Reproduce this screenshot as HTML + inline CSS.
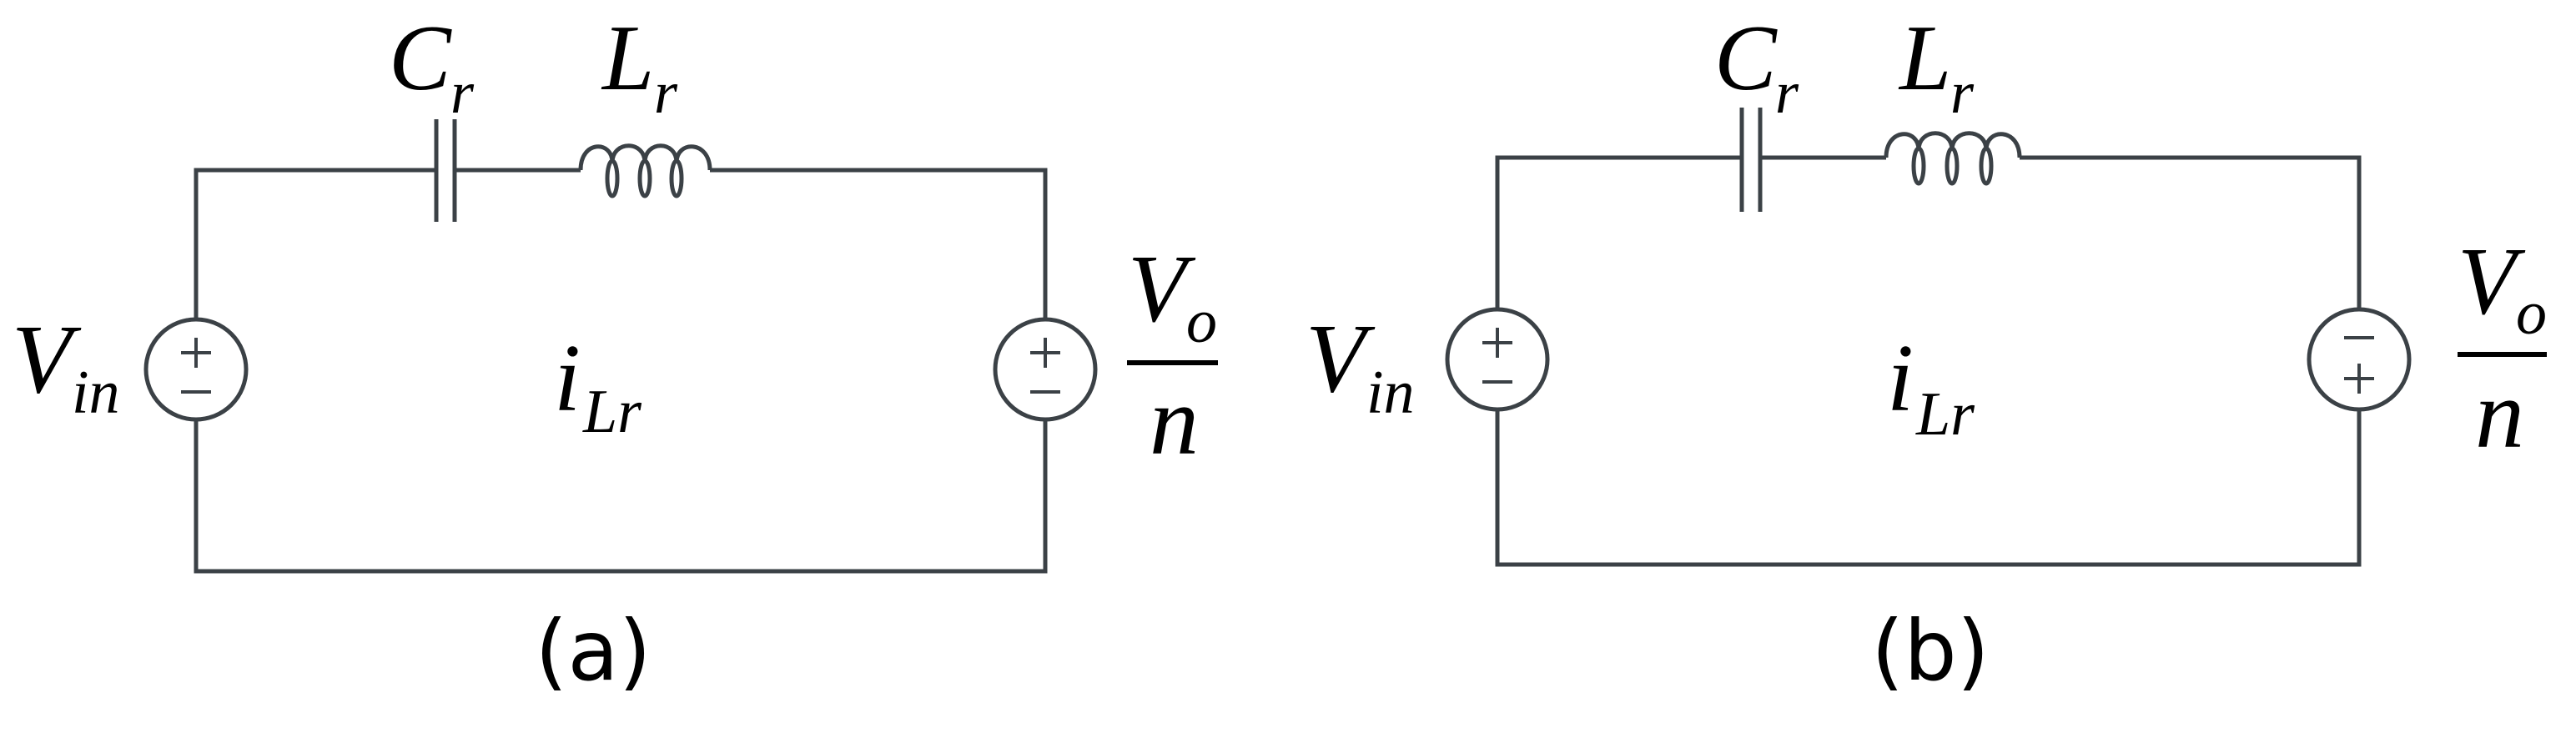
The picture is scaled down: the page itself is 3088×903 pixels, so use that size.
<!DOCTYPE html>
<html><head><meta charset="utf-8"><style>
html,body{margin:0;padding:0;background:#fff;}
svg{display:block;}
.m{font-family:"Liberation Serif",serif;font-style:italic;fill:#000;}
.c{font-family:"DejaVu Sans","Liberation Sans",sans-serif;fill:#000;}
</style></head><body>
<svg width="3088" height="903" viewBox="0 0 3088 903" xmlns="http://www.w3.org/2000/svg">
<g fill="none" stroke="#3b4146" stroke-width="5">
<!-- Panel a -->
<path d="M235 383 V204 H523 M545 204 H696 M851 204 H1253 V383"/>
<path d="M235 503 V685 H1253 V503"/>
<line x1="523" y1="143" x2="523" y2="266"/>
<line x1="545" y1="143" x2="545" y2="266"/>
<path d="M696 204 C696 168 734 168 734 195 C734 168 773 168 773 195 C773 168 811 168 811 195 C811 168 851 168 851 204" />
<ellipse cx="734" cy="214" rx="6" ry="21"/>
<ellipse cx="773" cy="214" rx="6" ry="21"/>
<ellipse cx="811" cy="214" rx="6" ry="21"/>
<circle cx="235" cy="443" r="60"/>
<circle cx="1253" cy="443" r="60"/>
<g stroke-width="4">
<path d="M217 423 H253 M235 405 V441 M217 470 H253"/>
<path d="M1235 423 H1271 M1253 405 V441 M1235 470 H1271"/>
</g>
<!-- Panel b -->
<path d="M1795 371 V189 H2088 M2110 189 H2261 M2421 189 H2828 V371"/>
<path d="M1795 491 V677 H2828 V491"/>
<line x1="2088" y1="129" x2="2088" y2="254"/>
<line x1="2110" y1="129" x2="2110" y2="254"/>
<path d="M2261 189 C2261 153 2300 153 2300 180 C2300 153 2340 153 2340 180 C2340 153 2381 153 2381 180 C2381 153 2421 153 2421 189"/>
<ellipse cx="2300" cy="199" rx="6" ry="21"/>
<ellipse cx="2340" cy="199" rx="6" ry="21"/>
<ellipse cx="2381" cy="199" rx="6" ry="21"/>
<circle cx="1795" cy="431" r="60"/>
<circle cx="2828" cy="431" r="60"/>
<g stroke-width="4">
<path d="M1777 411 H1813 M1795 393 V429 M1777 458 H1813"/>
<path d="M2810 405 H2846 M2810 454 H2846 M2828 436 V472"/>
</g>
</g>
<!-- Fraction bars -->
<rect x="1351" y="432" width="109" height="6" fill="#000"/>
<rect x="2946" y="422" width="107" height="6" fill="#000"/>
<!-- Labels a -->
<text class="m" x="466" y="107" font-size="112">C</text>
<text class="m" x="540" y="135" font-size="72">r</text>
<text class="m" x="722" y="107" font-size="112">L</text>
<text class="m" x="784" y="135" font-size="72">r</text>
<text class="m" x="14" y="470" font-size="118">V</text>
<text class="m" x="86" y="495" font-size="74">in</text>
<text class="m" x="664" y="492" font-size="115">i</text>
<text class="m" x="699" y="518" font-size="74">Lr</text>
<text class="m" x="1352" y="385" font-size="115">V</text>
<text class="m" x="1422" y="410" font-size="74">o</text>
<text class="m" x="1378" y="544" font-size="118">n</text>
<text class="c" x="711" y="815" font-size="100" text-anchor="middle">(a)</text>
<!-- Labels b -->
<text class="m" x="2055" y="107" font-size="112">C</text>
<text class="m" x="2128" y="135" font-size="72">r</text>
<text class="m" x="2277" y="107" font-size="112">L</text>
<text class="m" x="2338" y="135" font-size="72">r</text>
<text class="m" x="1565" y="469" font-size="118">V</text>
<text class="m" x="1638" y="495" font-size="74">in</text>
<text class="m" x="2262" y="492" font-size="115">i</text>
<text class="m" x="2297" y="521" font-size="74">Lr</text>
<text class="m" x="2946" y="376" font-size="115">V</text>
<text class="m" x="3016" y="400" font-size="74">o</text>
<text class="m" x="2967" y="536" font-size="118">n</text>
<text class="c" x="2314" y="815" font-size="100" text-anchor="middle">(b)</text>
</svg>
</body></html>
